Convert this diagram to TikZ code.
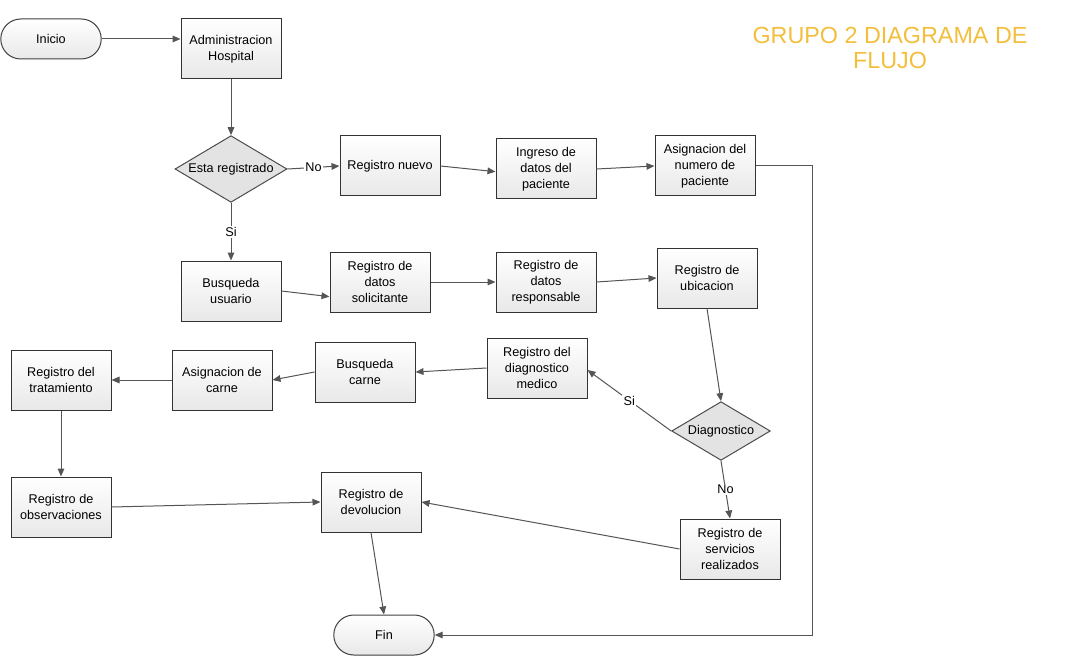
\documentclass[tikz,border=0pt]{standalone}
\usepackage{fontspec}
\setmainfont{Liberation Sans}
\usetikzlibrary{arrows.meta,shapes.geometric,shapes.misc}
\definecolor{titleorange}{RGB}{242,190,60}
\definecolor{linegray}{RGB}{85,85,85}

\begin{document}
\begin{tikzpicture}[x=0.75pt,y=-0.75pt,
  every node/.style={font=\fontsize{9.5}{12}\selectfont},
  box/.style={draw=black!80, line width=0.75pt, top color=white, bottom color=black!9,
    minimum width=75pt, minimum height=45pt, align=center, inner sep=1pt},
  terminal/.style={rounded rectangle, draw=black!75, line width=0.75pt, top color=white,
    bottom color=black!9, minimum width=82pt, minimum height=30pt},
  decision/.style={diamond, draw=black!70, line width=0.75pt, fill=black!11, inner sep=0pt},
  flow/.style={draw=linegray, line width=0.75pt, -{Triangle[length=6pt,width=5pt]}},
  answer/.style={fill=white, inner sep=1pt}]
  \useasboundingbox (0,0) rectangle (1078,656);

  % first row
  \node[terminal] (inicio) at (51,39) {Inicio};
  \node[box] (admin) at (231,49) {Administracion\\Hospital};
  \node[decision, minimum width=84pt, minimum height=50pt] (esta) at (231,169) {\makebox[0pt]{Esta registrado}};
  \node[box] (nuevo) at (390,166) {Registro nuevo};
  \node[box] (ingreso) at (546,169) {Ingreso de\\datos del\\paciente};
  \node[box] (asignum) at (705,166) {Asignacion del\\numero de\\paciente};

  % second row
  \node[box] (busqusu) at (231,291) {Busqueda\\usuario};
  \node[box] (solic) at (380,282) {Registro de\\datos\\solicitante};
  \node[box] (resp) at (546,282) {Registro de\\datos\\responsable};
  \node[box] (ubic) at (707,278) {Registro de\\ubicacion};

  % third row
  \node[box] (medico) at (537,368) {Registro del\\diagnostico\\medico};
  \node[box] (busqcar) at (365,372) {Busqueda\\carne};
  \node[box] (asigcar) at (222,380) {Asignacion de\\carne};
  \node[box] (trat) at (61,380) {Registro del\\tratamiento};
  \node[decision, minimum width=74pt, minimum height=44pt] (diag) at (721,431) {\makebox[0pt]{Diagnostico}};

  % bottom
  \node[box] (obs) at (61,507) {Registro de\\observaciones};
  \node[box] (devol) at (371,502) {Registro de\\devolucion};
  \node[box] (serv) at (730,549) {Registro de\\servicios\\realizados};
  \node[terminal] (fin) at (384,635) {Fin};

  \node[text=titleorange, font=\fontsize{17.5}{19}\selectfont, align=center] (titulo) at (890,48)
    {GRUPO 2 DIAGRAMA DE\\FLUJO};

  % connectors
  \draw[flow] (inicio.east) -- ([yshift=7.5pt]admin.west);
  \draw[flow] (admin.south) -- (esta.north);
  \draw[flow] (esta.east) -- node[answer]{No} (nuevo.west);
  \draw[flow] (esta.south) -- node[answer]{Si} (busqusu.north);
  \draw[flow] (nuevo.east) -- ([yshift=-2pt]ingreso.west);
  \draw[flow] (ingreso.east) -- (asignum.west);
  \draw[flow] (asignum.east) -- ++(57,0) |- (fin.east);
  \draw[flow] (busqusu.east) -- ([yshift=-11pt]solic.west);
  \draw[flow] (solic.east) -- (resp.west);
  \draw[flow] (resp.east) -- (ubic.west);
  \draw[flow] (ubic.south) -- (diag.north);
  \draw[flow] (diag.west) -- node[answer]{Si} ([yshift=-1.5pt]medico.east);
  \draw[flow] (diag.south) -- node[answer]{No} (serv.north);
  \draw[flow] (medico.west) -- (busqcar.east);
  \draw[flow] (busqcar.west) -- (asigcar.east);
  \draw[flow] (asigcar.west) -- (trat.east);
  \draw[flow] (trat.south) -- (obs.north);
  \draw[flow] (obs.east) -- (devol.west);
  \draw[flow] (serv.west) -- (devol.east);
  \draw[flow] (devol.south) -- (fin.north);
\end{tikzpicture}
\end{document}
